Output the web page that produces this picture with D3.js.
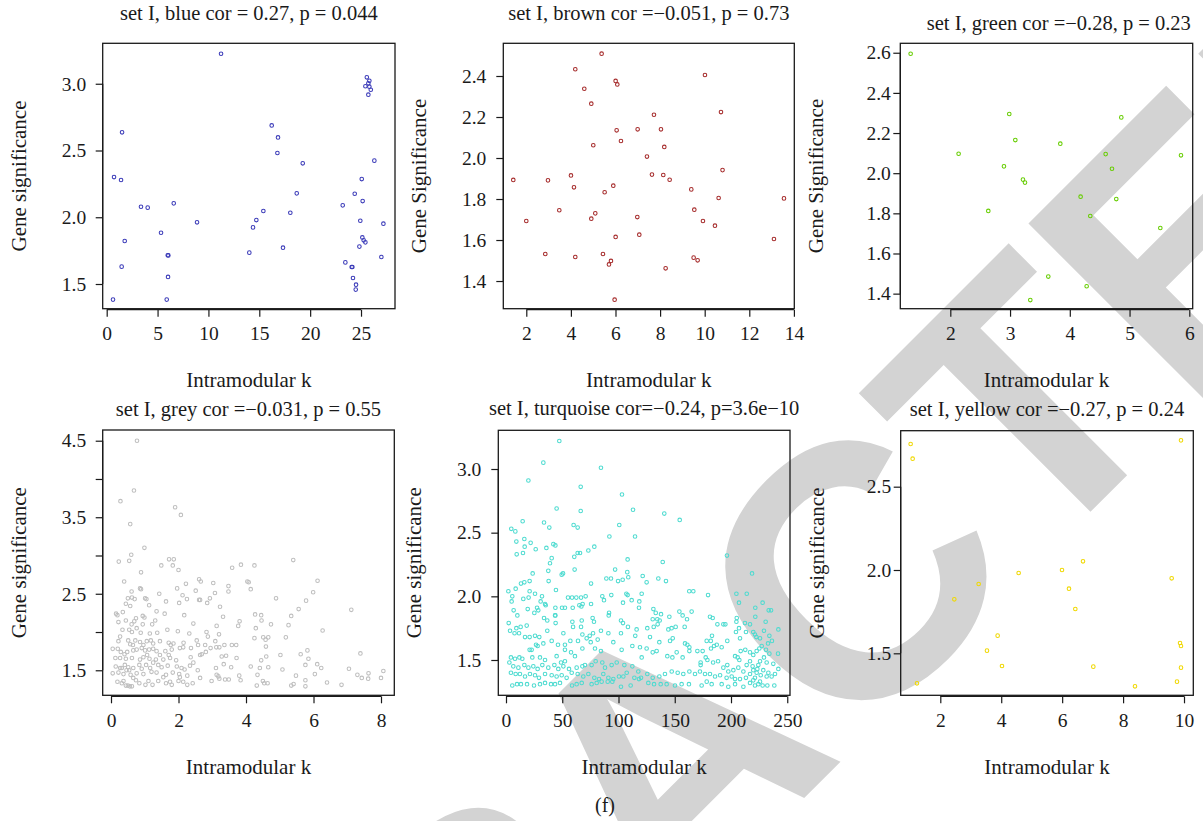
<!DOCTYPE html>
<html>
<head>
<meta charset="utf-8">
<script src="https://cdn.jsdelivr.net/npm/d3@7"></script>
<style>
  html, body { margin: 0; padding: 0; background: #ffffff; }
  svg { display: block; font-family: "Liberation Serif", "DejaVu Serif", serif; }
</style>
</head>
<body>
<svg id="fig" width="1203" height="821"></svg>
<script>
// ---- module membership vs. gene significance, one array of [k, GS] per module ----
const bluePts = [[11.24,3.225],[25.57,3.048],[25.82,3.022],[25.72,3.003],[25.43,2.981],[25.82,2.978],[25.96,2.955],[25.72,2.918],[16.22,2.688],[16.84,2.598],[16.78,2.481],[1.51,2.636],[0.72,2.301],[1.41,2.279],[19.27,2.404],[26.31,2.424],[25.07,2.286],[18.68,2.179],[24.38,2.176],[25.16,2.121],[3.37,2.079],[4.03,2.072],[6.59,2.104],[23.2,2.089],[15.4,2.047],[18.05,2.034],[8.88,1.962],[14.71,1.979],[14.38,1.924],[24.93,1.974],[27.2,1.952],[5.34,1.884],[1.77,1.822],[25.13,1.849],[25.26,1.827],[25.43,1.812],[24.84,1.78],[17.33,1.772],[6.0,1.715],[6.06,1.714],[14.02,1.735],[27.0,1.702],[23.46,1.662],[1.47,1.63],[24.08,1.627],[24.15,1.627],[6.03,1.553],[24.21,1.545],[24.51,1.495],[24.48,1.458],[0.62,1.383],[5.9,1.383]];

const brownPts = [[5.378,2.509],[4.197,2.433],[10.012,2.405],[6.006,2.376],[6.081,2.359],[4.601,2.338],[4.915,2.265],[10.73,2.224],[7.725,2.211],[6.993,2.14],[8.039,2.14],[6.051,2.135],[6.245,2.083],[5.004,2.062],[8.188,2.054],[7.411,2.007],[10.8,1.941],[4.003,1.915],[7.635,1.919],[8.143,1.917],[1.417,1.893],[2.972,1.891],[8.428,1.894],[5.901,1.865],[4.138,1.857],[5.513,1.833],[9.399,1.847],[10.625,1.805],[13.555,1.803],[3.48,1.745],[9.534,1.748],[5.094,1.73],[4.915,1.704],[6.978,1.712],[2.0,1.693],[9.922,1.693],[10.46,1.67],[7.067,1.626],[6.006,1.615],[13.106,1.605],[2.852,1.532],[5.438,1.532],[4.197,1.517],[9.504,1.514],[9.683,1.501],[5.797,1.498],[5.707,1.481],[8.248,1.462],[5.961,1.309]];

const greenPts = [[1.336,2.595],[2.987,2.295],[4.862,2.278],[3.088,2.165],[3.841,2.147],[2.139,2.097],[4.6,2.095],[5.861,2.089],[2.898,2.034],[4.706,2.022],[3.216,1.968],[3.25,1.953],[4.181,1.883],[4.778,1.871],[2.636,1.812],[4.343,1.787],[5.515,1.727],[3.64,1.485],[4.282,1.437],[3.339,1.368]];

const greyPts = [
  [0.77,4.50],[0.68,3.85],[0.28,3.71],[1.90,3.63],[2.07,3.53],[0.57,3.41],[0.99,3.10],[0.60,3.01],
  [0.23,2.92],[0.54,2.93],[1.72,2.95],[1.86,2.95],[1.49,2.87],[1.83,2.87],[2.00,2.81],[0.89,2.78],[3.59,2.84],[3.85,2.88],[0.39,2.66],[4.04,2.66],[4.08,2.65],[2.61,2.69],[2.66,2.66],[3.03,2.64],
  [3.48,2.60],[3.48,2.53],[1.96,2.57],[2.22,2.63],[3.08,2.51],[2.51,2.54],[0.86,2.57],[0.89,2.56],[0.61,2.53],[1.43,2.50],[2.12,2.48],[2.25,2.43],[2.02,2.38],[2.61,2.42],[2.64,2.42],[2.93,2.44],[2.85,2.38],[0.50,2.44],[0.62,2.45],[0.70,2.43],[1.01,2.44],[1.05,2.43],[0.44,2.37],[0.57,2.34],[1.13,2.35],[1.63,2.40],[3.23,2.33],
  [0.15,2.24],[0.19,2.22],[0.35,2.26],[0.94,2.21],[0.99,2.19],[1.35,2.27],[1.59,2.24],[2.17,2.22],[3.32,2.20],[0.22,2.13],[0.44,2.15],[0.69,2.14],[0.74,2.18],[1.22,2.10],[1.31,2.15],[3.81,2.14],[3.77,2.08],[2.44,2.11],[3.13,2.08],[0.94,2.10],[0.61,2.10],
  [0.54,2.03],[0.62,2.00],[0.88,1.99],[1.15,1.98],[1.37,1.99],[1.67,2.03],[1.98,2.01],[2.32,1.98],[2.83,2.00],[2.87,1.94],[3.20,1.97],[3.36,1.83],[0.27,1.94],[0.22,1.88],[0.51,1.89],[0.72,1.89],[0.57,1.84],[0.65,1.83],[0.86,1.87],[0.96,1.83],[1.06,1.88],[1.18,1.89],[1.25,1.85],[1.45,1.88],[1.71,1.86],[1.77,1.83],[1.85,1.85],[2.15,1.86],[2.54,1.89],[2.58,1.83],[2.79,1.83],[2.95,1.79],[3.09,1.88],[3.12,1.80],[3.21,1.80],[3.58,1.83],[3.71,1.83],[0.34,2.03],[0.76,2.05],
  [0.05,1.78],[0.20,1.78],[0.29,1.74],[0.40,1.71],[0.48,1.74],[0.66,1.76],[0.76,1.77],[0.91,1.79],[1.01,1.76],[1.13,1.77],[1.25,1.78],[1.35,1.75],[1.45,1.70],[1.61,1.75],[1.80,1.77],[2.04,1.79],[2.14,1.80],[2.37,1.79],[2.69,1.71],[2.81,1.74],[3.28,1.68],[3.41,1.69],[3.72,1.66],[0.13,1.66],[0.27,1.66],[0.44,1.65],[0.62,1.66],[0.86,1.64],[0.96,1.67],[1.14,1.65],[1.33,1.64],[1.55,1.64],[1.75,1.66],[1.93,1.63],[2.36,1.67],[2.64,1.70],[1.71,1.70],[1.07,1.70],
  [0.14,1.55],[0.27,1.53],[0.41,1.57],[0.51,1.54],[0.66,1.53],[0.84,1.57],[1.04,1.57],[1.16,1.53],[1.40,1.57],[1.50,1.54],[1.68,1.56],[1.95,1.55],[2.09,1.53],[2.34,1.56],[2.44,1.60],[2.57,1.50],[3.11,1.53],[3.34,1.58],[3.56,1.54],[0.05,1.46],[0.22,1.47],[0.37,1.45],[0.46,1.50],[0.58,1.44],[0.76,1.46],[0.96,1.45],[1.20,1.48],[1.35,1.47],[1.63,1.44],[1.83,1.47],[2.02,1.45],[2.26,1.43],[3.13,1.44],[0.32,1.53],[0.54,1.50],[0.91,1.52],[1.25,1.60],[2.18,1.51],
  [0.19,1.35],[0.32,1.33],[0.44,1.30],[0.56,1.29],[0.62,1.29],[0.50,1.30],[0.66,1.40],[0.84,1.33],[1.02,1.31],[1.23,1.31],[1.40,1.36],[1.55,1.41],[1.75,1.35],[1.80,1.31],[2.00,1.36],[2.14,1.35],[2.26,1.31],[2.42,1.33],[2.64,1.40],[2.98,1.36],[3.18,1.42],[3.21,1.39],[3.38,1.38],[3.49,1.38],[3.80,1.43],[3.84,1.37],[0.37,1.36],[0.74,1.37],[1.11,1.36],[1.63,1.33],[2.04,1.41],
  [4.25,2.87],[5.40,2.94],[4.14,2.56],[6.12,2.67],[5.99,2.52],[4.89,2.44],[5.78,2.41],[5.56,2.30],[7.12,2.29],[4.27,2.23],[4.45,2.22],[4.46,2.15],[5.34,2.21],[4.74,2.10],[5.26,2.09],[4.29,2.05],[6.27,2.02],[4.25,1.92],[4.51,1.93],[4.66,1.93],[4.58,1.90],[5.18,1.93],[4.59,1.81],[7.39,1.72],[4.60,1.68],[4.45,1.63],[5.02,1.70],[5.62,1.71],[5.82,1.76],[5.85,1.65],[5.76,1.57],[4.14,1.55],[4.41,1.53],[4.66,1.54],[5.08,1.51],[6.11,1.58],[6.23,1.53],[7.05,1.52],[4.34,1.44],[6.04,1.45],[5.48,1.43],[7.30,1.44],[7.43,1.40],[7.63,1.46],[7.62,1.39],[8.07,1.49],[8.00,1.40],[4.50,1.36],[4.54,1.33],[4.64,1.33],[4.32,1.30],[5.76,1.37],[5.76,1.29],[5.34,1.30],[5.41,1.32],[6.40,1.34],[6.83,1.31]
];

const turquoisePts = [
  [47.4,3.22],[33.2,3.05],[84.4,3.01],[19.9,2.91],[66.4,2.86],[103.1,2.80],[45.0,2.69],[66.4,2.67],[112.9,2.68],[14.8,2.59],[33.8,2.58],[38.5,2.54],[60.1,2.56],[63.7,2.54],[100.7,2.56],[4.7,2.53],[8.3,2.51],[91.9,2.47],[114.7,2.47],[9.2,2.43],[16.3,2.45],[21.9,2.42],[42.1,2.41],[43.9,2.40],[35.9,2.38],[16.6,2.39],[26.4,2.37],[9.5,2.33],[15.1,2.34],[73.2,2.36],[78.5,2.39],[63.7,2.34],[65.8,2.34],[60.7,2.31],[40.6,2.30],[39.1,2.26],[37.6,2.20],[61.0,2.21],[108.1,2.29],[49.5,2.17],[50.7,2.18],[23.7,2.18],[13.3,2.10],[16.3,2.11],[21.0,2.12],[37.9,2.12],[44.4,2.05],[75.6,2.10],[89.2,2.14],[93.3,2.14],[99.6,2.12],[103.7,2.13],[108.7,2.15],[107.8,2.19],[121.5,2.16],[97.0,2.21],
  [2.1,2.04],[8.6,2.06],[21.0,2.04],[25.8,2.02],[32.0,2.00],[15.4,1.98],[20.1,1.99],[5.6,2.00],[5.0,1.96],[6.8,1.89],[10.1,1.85],[19.3,1.90],[25.2,1.87],[28.7,1.89],[27.6,1.91],[34.7,1.94],[35.3,1.93],[30.8,1.96],[43.9,1.91],[49.8,1.91],[52.4,1.91],[55.1,1.99],[58.7,1.99],[62.5,1.99],[66.7,1.99],[65.2,1.93],[67.0,1.92],[68.1,1.94],[59.3,1.91],[70.8,2.00],[75.6,1.94],[85.6,2.00],[87.1,1.97],[93.6,2.01],[107.0,2.02],[108.1,2.01],[111.7,1.97],[118.5,1.96],[120.6,2.02],[118.2,1.91],[104.0,1.95],[43.6,1.85],[33.8,1.83],[36.7,1.81],
  [2.4,1.79],[9.2,1.75],[13.0,1.76],[18.4,1.77],[3.6,1.73],[7.6,1.71],[11.6,1.71],[16.9,1.68],[21.0,1.68],[25.8,1.69],[29.6,1.68],[36.7,1.73],[40.6,1.65],[44.1,1.79],[43.9,1.85],[51.0,1.71],[59.0,1.80],[59.6,1.76],[67.3,1.81],[66.7,1.76],[77.0,1.83],[78.2,1.80],[67.9,1.70],[74.4,1.69],[77.4,1.71],[84.4,1.73],[91.0,1.71],[91.6,1.87],[91.3,1.85],[102.2,1.81],[104.0,1.79],[108.4,1.76],[116.1,1.74],[114.9,1.69],[102.2,1.71],[95.4,1.64],[81.5,1.66],[71.7,1.67],[64.0,1.65],[57.2,1.65],[52.4,1.62],[46.2,1.62],[33.2,1.63],[26.7,1.62],[22.8,1.58],[28.1,1.61],[52.4,1.58],[57.8,1.56],[61.3,1.53],[67.9,1.59],[75.3,1.64],[79.1,1.59],[84.4,1.57],[102.8,1.58],[112.3,1.61],[119.1,1.60],[120.6,1.52],
  [4.4,1.52],[8.0,1.51],[11.9,1.52],[14.5,1.51],[21.0,1.58],[23.4,1.52],[30.2,1.52],[34.7,1.50],[45.0,1.53],[48.9,1.48],[52.4,1.49],
  [3.0,1.48],[6.5,1.45],[11.0,1.44],[16.3,1.46],[19.9,1.44],[24.3,1.45],[28.1,1.43],[32.3,1.46],[37.6,1.44],[43.0,1.46],[46.5,1.43],[51.0,1.45],[56.0,1.43],[62.8,1.44],[67.9,1.45],[70.2,1.46],[76.1,1.46],[79.7,1.49],[85.6,1.48],[88.0,1.44],[93.9,1.46],[98.4,1.48],[105.2,1.46],[112.3,1.45],[117.6,1.41],
  [4.4,1.40],[8.6,1.39],[12.4,1.39],[16.9,1.37],[21.3,1.39],[25.8,1.38],[29.3,1.36],[34.7,1.39],[40.6,1.38],[45.0,1.37],[49.5,1.38],[53.9,1.36],[58.4,1.40],[63.7,1.39],[68.7,1.37],[73.2,1.39],[78.5,1.36],[82.7,1.35],[86.5,1.39],[91.0,1.36],[95.4,1.35],[100.4,1.37],[104.3,1.37],[107.3,1.40],[114.1,1.36],[120.0,1.36],
  [5.6,1.30],[9.8,1.31],[13.3,1.31],[18.7,1.31],[24.9,1.30],[30.2,1.31],[34.7,1.32],[40.0,1.31],[43.6,1.31],[48.0,1.32],[58.7,1.30],[62.8,1.31],[67.3,1.32],[76.1,1.31],[80.6,1.32],[85.0,1.33],[90.4,1.33],[94.5,1.33],[102.2,1.29],[110.8,1.30],[118.2,1.35],
  [140.7,2.65],[154.4,2.60],[196.4,2.32],[139.3,2.27],[125.0,2.11],[142.2,2.12],[135.4,2.14],[218.7,2.18],[162.9,2.04],[166.5,2.04],[179.6,2.01],[214.0,2.02],[204.8,2.02],[207.1,1.95],[228.1,1.95],[233.5,1.89],[235.6,1.89],[221.6,1.91],[131.0,1.90],[133.1,1.87],[137.8,1.86],[134.5,1.82],[130.4,1.82],[154.1,1.88],[165.0,1.88],[157.0,1.85],[160.9,1.82],[145.2,1.84],[136.6,1.81],[131.3,1.76],[125.6,1.75],[134.8,1.78],[144.3,1.74],[147.2,1.75],[150.8,1.76],[158.8,1.76],[181.3,1.84],[183.7,1.83],[187.9,1.78],[193.2,1.78],[195.0,1.78],[205.1,1.83],[204.8,1.80],[212.4,1.79],[216.9,1.78],[221.6,1.84],[230.8,1.80],[242.1,1.74],[207.1,1.75],[204.4,1.72],[213.3,1.72],[219.8,1.72],[221.3,1.70],[222.5,1.68],[229.3,1.73],[225.8,1.67],[234.1,1.69],[236.4,1.65],[232.9,1.63],[208.0,1.67],[196.7,1.65],[183.1,1.69],[178.4,1.65],[128.0,1.68],[136.3,1.64],[148.2,1.67],[145.8,1.65],[159.1,1.63],[161.2,1.62],[163.0,1.60],[170.1,1.57],[174.8,1.57],[182.2,1.59],[184.9,1.61],[187.3,1.62],[191.7,1.60],[182.0,1.65],[125.0,1.59],[130.4,1.56],[133.9,1.57],[143.4,1.53],[147.9,1.52],[151.7,1.56],[157.0,1.52],[163.0,1.57],[173.0,1.48],[173.0,1.46],[177.5,1.52],[179.0,1.50],[184.1,1.48],[188.5,1.49],[193.2,1.44],[196.7,1.46],[197.6,1.41],[203.6,1.53],[205.9,1.52],[207.4,1.50],[208.6,1.57],[212.7,1.58],[216.9,1.56],[219.8,1.54],[222.8,1.57],[225.2,1.59],[227.3,1.61],[231.1,1.58],[234.1,1.55],[241.8,1.55],[229.3,1.52],[225.8,1.49],[216.9,1.49],[213.9,1.46],[219.2,1.45],[224.3,1.46],[231.7,1.48],[237.6,1.47],[242.1,1.43],[239.1,1.39],[236.1,1.37],[231.7,1.37],[226.4,1.38],[221.3,1.36],[216.9,1.39],[211.0,1.41],[206.5,1.44],[202.1,1.42],[200.6,1.37],[196.1,1.36],[190.3,1.38],[185.8,1.37],[181.3,1.39],[176.9,1.39],[172.4,1.41],[168.0,1.39],[163.0,1.41],[157.6,1.39],[152.6,1.40],[147.3,1.41],[141.3,1.39],[136.3,1.37],[130.4,1.36],[125.6,1.39],[126.5,1.32],[131.6,1.31],[137.5,1.31],[142.8,1.31],[150.2,1.30],[156.1,1.31],[162.6,1.31],[173.9,1.30],[178.4,1.33],[182.8,1.31],[191.7,1.31],[197.6,1.29],[203.6,1.31],[211.0,1.29],[216.9,1.32],[221.3,1.30],[224.3,1.31],[228.1,1.30],[232.3,1.30],[238.5,1.30],[219.8,1.34],[225.8,1.33],[213.3,1.36],[208.0,1.35],[203.6,1.35],[219.8,1.42],[222.8,1.40],[228.7,1.42],[233.2,1.40],[223.4,1.43]
];

const yellowPts = [[1.026,2.756],[9.901,2.778],[1.092,2.668],[6.684,2.052],[4.572,1.982],[5.995,2.0],[9.595,1.95],[3.259,1.916],[6.224,1.888],[2.46,1.824],[6.432,1.766],[3.882,1.606],[9.869,1.562],[9.901,1.544],[3.532,1.516],[4.025,1.424],[7.023,1.42],[9.901,1.414],[1.234,1.32],[9.77,1.33],[8.391,1.302]];

// ---- titles, axis labels and tick values ----
const titles = [
  "set I, blue cor = 0.27, p = 0.044",
  "set I, brown cor =\u22120.051, p = 0.73",
  "set I, green cor =\u22120.28, p = 0.23",
  "set I, grey cor =\u22120.031, p = 0.55",
  "set I, turquoise cor=\u22120.24, p=3.6e\u221210",
  "set I, yellow cor =\u22120.27, p = 0.24"
];
const yLabels = ["Gene significance", "Gene Significance", "Gene Significance",
                 "Gene significance", "Gene significance", "Gene significance"];
const xLabel = "Intramodular k";
const xTickSets = [[0,5,10,15,20,25], [2,4,6,8,10,12,14], [2,3,4,5,6],
                   [0,2,4,6,8], [0,50,100,150,200,250], [2,4,6,8,10]];
const yTickSets = [[1.5,2.0,2.5,3.0], [1.4,1.6,1.8,2.0,2.2,2.4], [1.4,1.6,1.8,2.0,2.2,2.4,2.6],
                   [1.5,2.0,2.5,3.0,3.5,4.0,4.5], [1.5,2.0,2.5,3.0], [1.5,2.0,2.5]];
const yTickLabelSets = [null, null, null, [1.5,2.5,3.5,4.5], null, null];
const seriesPts = [bluePts, brownPts, greenPts, greyPts, turquoisePts, yellowPts];
const seriesColors = ["#3a3ab8", "#a52a2a", "#66cd00", "#bebebe", "#4ddbd0", "#f0d800"];
const xLimits = [[-0.393,28.34], [0.969,14.018], [1.163,6.057], [-0.246,8.394], [-6.84,252.44], [0.70,10.305]];
const yLimits = [[1.315,3.303], [1.265,2.5595], [1.325,2.647], [1.173,4.640], [1.2227,3.304], [1.248,2.836]];

// ---- layout of each plotting region (pixels) ----
const layout = [
  { l: 102.7, t: 43.3,  r: 395.0,  b: 308.7, titleX: null,   titleY: 20,  yTickGap: 16.5 },
  { l: 503.3, t: 43.3,  r: 794.3,  b: 308.7, titleX: null,   titleY: 20,  yTickGap: 17 },
  { l: 900.3, t: 43.3,  r: 1192.7, b: 308.7, titleX: 1058.8, titleY: 29.5, yTickGap: 9.5 },
  { l: 102.7, t: 430.0, r: 394.3,  b: 695.3, titleX: null,   titleY: 416, yTickGap: 16.5 },
  { l: 498.3, t: 430.3, r: 790.0,  b: 695.3, titleX: null,   titleY: 415, yTickGap: 17 },
  { l: 900.7, t: 430.7, r: 1193.3, b: 695.3, titleX: null,   titleY: 416, yTickGap: 9.5 }
];

const svg = d3.select("#fig");
svg.append("rect").attr("width", 1203).attr("height", 821).attr("fill", "#ffffff");

// ---- diagonal watermark lettering behind the plots ----
const wmSize = 360;
const wm = svg.append("g").attr("transform", "translate(848,572) rotate(-45)");
const wmText = wm.append("text")
  .text("RETRACTED")
  .attr("font-family", "'Liberation Sans', Arial, sans-serif")
  .attr("font-weight", "bold")
  .attr("font-size", wmSize)
  .attr("fill", "#d3d3d3");
const cExt = wmText.node().getExtentOfChar(5);
wmText.attr("x", -(cExt.x + cExt.width / 2)).attr("y", 0.358 * wmSize);

const fmt1 = d3.format(".1f");

layout.forEach((L, i) => {
  const g = svg.append("g");
  const x = d3.scaleLinear().domain(xLimits[i]).range([L.l, L.r]);
  const y = d3.scaleLinear().domain(yLimits[i]).range([L.b, L.t]);
  const cx = (L.l + L.r) / 2, cy = (L.t + L.b) / 2;

  // points (open circles)
  g.append("g").selectAll("circle").data(seriesPts[i]).join("circle")
    .attr("cx", d => x(d[0])).attr("cy", d => y(d[1])).attr("r", 1.8)
    .attr("fill", "none").attr("stroke", seriesColors[i]).attr("stroke-width", 1.05);

  // plot frame
  g.append("rect").attr("x", L.l).attr("y", L.t)
    .attr("width", L.r - L.l).attr("height", L.b - L.t)
    .attr("fill", "none").attr("stroke", "#1a1a1a").attr("stroke-width", 1.3);

  // x axis
  const xt = xTickSets[i];
  const xa = g.append("g").attr("transform", `translate(0,${L.b + 1})`)
    .call(d3.axisBottom(x).tickValues(xt).tickFormat(d3.format("d")).tickSize(7).tickSizeOuter(0).tickPadding(10));
  xa.attr("font-family", null).attr("font-size", null);
  xa.select(".domain").remove();
  xa.append("line").attr("x1", x(xt[0])).attr("x2", x(xt[xt.length - 1]))
    .attr("stroke", "#1a1a1a").attr("stroke-width", 1.2);
  xa.selectAll(".tick line").attr("stroke", "#1a1a1a").attr("stroke-width", 1.2);
  xa.selectAll(".tick text").attr("font-size", 19.5).attr("fill", "#1a1a1a")
    .attr("dy", null).attr("y", 30.5);

  // y axis
  const yt = yTickSets[i];
  const shown = yTickLabelSets[i];
  const ya = g.append("g").attr("transform", `translate(${L.l},0)`)
    .call(d3.axisLeft(y).tickValues(yt)
      .tickFormat(v => (shown && !shown.some(s => Math.abs(s - v) < 1e-9)) ? "" : fmt1(v))
      .tickSize(7).tickSizeOuter(0).tickPadding(L.yTickGap - 7));
  ya.attr("font-family", null).attr("font-size", null);
  ya.select(".domain").remove();
  ya.append("line").attr("y1", y(yt[0])).attr("y2", y(yt[yt.length - 1]))
    .attr("stroke", "#1a1a1a").attr("stroke-width", 1.2);
  ya.selectAll(".tick line").attr("stroke", "#1a1a1a").attr("stroke-width", 1.2);
  ya.selectAll(".tick text").attr("font-size", 19.5).attr("fill", "#1a1a1a");

  // title
  g.append("text").attr("x", L.titleX !== null ? L.titleX : cx).attr("y", L.titleY)
    .attr("text-anchor", "middle").attr("font-size", 20.5).attr("fill", "#1a1a1a")
    .text(titles[i]);

  // x label
  g.append("text").attr("x", cx).attr("y", L.b + 78.5)
    .attr("text-anchor", "middle").attr("font-size", 21).attr("fill", "#1a1a1a")
    .text(xLabel);

  // y label
  g.append("text").attr("transform", `translate(${L.l - 77},${cy}) rotate(-90)`)
    .attr("text-anchor", "middle").attr("font-size", 21).attr("fill", "#1a1a1a")
    .text(yLabels[i]);
});

// panel tag
svg.append("text").attr("x", 605).attr("y", 812).attr("text-anchor", "middle")
  .attr("font-size", 20).attr("fill", "#1a1a1a").text("(f)");
</script>
</body>
</html>
